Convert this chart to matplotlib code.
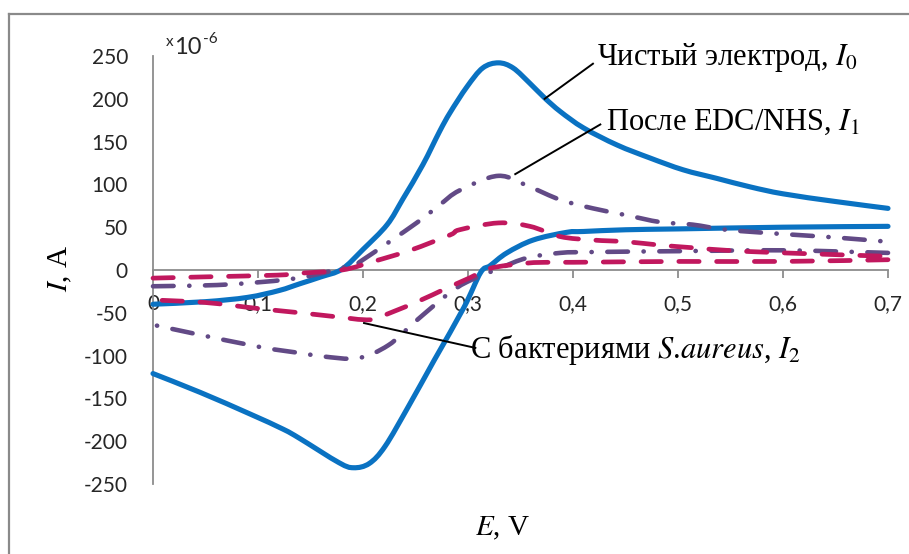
import matplotlib
matplotlib.use("Agg")
import matplotlib.pyplot as plt
from matplotlib.lines import Line2D
from matplotlib.path import Path
from matplotlib.patches import PathPatch

# ---------------- data (E in V, I in 1e-6 A) ----------------
e0_fwd = [0.0, 0.05, 0.09, 0.12, 0.14, 0.16, 0.18, 0.20, 0.223, 0.238, 0.257, 0.273, 0.283,
          0.299, 0.314, 0.329, 0.343, 0.359, 0.373, 0.388, 0.41, 0.442, 0.473, 0.505,
          0.537, 0.569, 0.60, 0.65, 0.70]
i0_fwd = [-40, -37, -32, -24, -16, -8, 1, 24, 53, 83, 123, 162, 184,
          214, 236, 242, 236, 218, 201, 185, 166, 146, 131, 117,
          107, 97, 89, 80, 72]
e0_rev = [0.70, 0.60, 0.50, 0.45, 0.41, 0.394, 0.362, 0.337, 0.321, 0.312, 0.296, 0.268,
          0.243, 0.221, 0.206, 0.191, 0.177, 0.14, 0.124, 0.092, 0.045, 0.0]
i0_rev = [51, 50, 48, 47, 45, 44, 35, 20, 5, -3, -44, -105,
          -160, -206, -226, -231, -225, -197, -186, -168, -143, -121]

e1_fwd = [0.0, 0.07, 0.14, 0.19, 0.20, 0.251, 0.273, 0.292, 0.329, 0.359, 0.388, 0.419,
          0.451, 0.483, 0.514, 0.546, 0.60, 0.65, 0.70]
i1_fwd = [-19, -17, -9, 6, 12, 55, 76, 93, 110, 97, 82, 72,
          64, 56, 53, 47, 42, 38, 33]
e1_rev = [0.70, 0.60, 0.50, 0.419, 0.388, 0.356, 0.33, 0.299, 0.28, 0.25, 0.224, 0.195,
          0.162, 0.14, 0.102, 0.038, 0.0]
i1_rev = [20, 23, 22, 21, 20, 14, 2, -14, -29, -60, -88, -103,
          -101, -97, -90, -74, -64]

e2_fwd = [0.0, 0.05, 0.118, 0.137, 0.18, 0.21, 0.245, 0.283, 0.292, 0.329, 0.359, 0.388,
          0.419, 0.451, 0.483, 0.514, 0.546, 0.60, 0.70]
i2_fwd = [-9.5, -8, -6, -4, 0, 10, 23, 41, 47, 55, 51, 39,
          35, 33, 29, 26, 23, 20, 16]
e2_rev = [0.70, 0.60, 0.50, 0.40, 0.378, 0.356, 0.321, 0.302, 0.28, 0.25, 0.213, 0.20,
          0.177, 0.14, 0.10, 0.05, 0.0]
i2_rev = [12, 10, 10, 9, 9, 8, 2, -9, -21, -38, -56, -58,
          -55, -50, -45, -38, -35]

x_ticks = [0.0, 0.1, 0.2, 0.3, 0.4, 0.5, 0.6, 0.7]
x_tick_labels = ["0", "0,1", "0,2", "0,3", "0,4", "0,5", "0,6", "0,7"]
y_ticks = [250, 200, 150, 100, 50, 0, -50, -100, -150, -200, -250]
y_tick_labels = ["250", "200", "150", "100", "50", "0", "-50", "-100", "-150", "-200", "-250"]

label_i0 = "Чистый электрод, $\\mathit{I_0}$"
label_i1 = "После EDC/NHS, $\\mathit{I_1}$"
label_i2 = "С бактериями $\\mathit{S}$.$\\mathit{aureus}$, $\\mathit{I_2}$"

# ---------------- style ----------------
plt.rcParams["mathtext.fontset"] = "stix"
W, H = 909, 554
fig = plt.figure(figsize=(W / 100, H / 100), dpi=100)
ax = fig.add_axes([153 / W, 1 - 484 / H, (888 - 153) / W, (484 - 56) / H])

blue = "#0A72C2"
purple = "#624A86"
magenta = "#C1185E"
axis_gray = "#8C8C8C"
text_dark = "#262626"


def smooth_branch(xs, ys, **kw):
    """Excel-like smoothed line: Catmull-Rom segments drawn as cubic Beziers."""
    n = len(xs)
    verts = [(xs[0], ys[0])]
    codes = [Path.MOVETO]
    for k in range(n - 1):
        x0, y0 = (xs[k - 1], ys[k - 1]) if k > 0 else (xs[k], ys[k])
        x1, y1 = xs[k], ys[k]
        x2, y2 = xs[k + 1], ys[k + 1]
        x3, y3 = (xs[k + 2], ys[k + 2]) if k + 2 < n else (x2, y2)
        c1 = (x1 + (x2 - x0) / 6, y1 + (y2 - y0) / 6)
        c2 = (x2 - (x3 - x1) / 6, y2 - (y3 - y1) / 6)
        verts += [c1, c2, (x2, y2)]
        codes += [Path.CURVE4] * 3
    patch = PathPatch(Path(verts, codes), fill=False, transform=ax.transData,
                      clip_on=False, joinstyle="round", capstyle="round", **kw)
    ax.add_patch(patch)


for xs, ys in [(e0_fwd, i0_fwd), (e0_rev, i0_rev)]:
    smooth_branch(xs, ys, edgecolor=blue, lw=3.7, zorder=3)
for xs, ys in [(e1_fwd, i1_fwd), (e1_rev, i1_rev)]:
    smooth_branch(xs, ys, edgecolor=purple, lw=3.3,
                  linestyle=(0, (4.5, 3.4, 0.05, 3.4)), zorder=4)
for xs, ys in [(e2_fwd, i2_fwd), (e2_rev, i2_rev)]:
    smooth_branch(xs, ys, edgecolor=magenta, lw=3.4,
                  linestyle=(0, (4.3, 3.7)), zorder=5)

ax.set_xlim(0, 0.7)
ax.set_ylim(-250, 250)
for s in ["top", "right"]:
    ax.spines[s].set_visible(False)
ax.spines["bottom"].set_position(("data", 0))
for s in ["left", "bottom"]:
    ax.spines[s].set_color(axis_gray)
    ax.spines[s].set_linewidth(1.3)

tick_font = dict(family="Lato", size=15, color=text_dark)
ax.set_xticks(x_ticks)
ax.set_xticklabels(x_tick_labels, fontdict=tick_font)
ax.set_yticks(y_ticks)
ax.set_yticklabels(y_tick_labels, fontdict=tick_font)
ax.tick_params(axis="x", direction="out", length=5.5, width=1.3, color=axis_gray, pad=12)
ax.tick_params(axis="y", length=0, pad=18)

# exponent marker  x10^-6
fig.text(166 / W, 1 - 42 / H, "x", family="Lato", size=11, color=text_dark,
         ha="left", va="center")
fig.text(174 / W, 1 - 47 / H, "10", family="Lato", size=17, color=text_dark,
         ha="left", va="center")
fig.text(203 / W, 1 - 39 / H, "-6", family="Lato", size=11, color=text_dark,
         ha="left", va="center")

# axis titles
serif = "Liberation Serif"
fig.text(60 / W, 1 - 268 / H, "$\\mathit{I}$, A", family=serif, size=21,
         rotation=90, ha="center", va="center", color="black")
fig.text(503 / W, 1 - 528 / H, "$\\mathit{E}$, V", family=serif, size=21,
         ha="center", va="center", color="black")

# annotations with pointer lines
ax.plot([0.373, 0.419], [200, 241], color="black", lw=1.4, clip_on=False, zorder=6)
ax.plot([0.345, 0.426], [112, 170], color="black", lw=1.4, clip_on=False, zorder=6)
ax.plot([0.201, 0.307], [-62, -91], color="black", lw=1.4, clip_on=False, zorder=6)
ax.text(0.423, 248, label_i0, family=serif, size=22, ha="left", va="center", clip_on=False)
ax.text(0.431, 173, label_i1, family=serif, size=22, ha="left", va="center", clip_on=False)
ax.text(0.302, -94, label_i2, family=serif, size=22, ha="left", va="center", clip_on=False)

# outer chart frame (left and top visible)
fy = 1 - 14 / H
fx = 9 / W
fig.add_artist(Line2D([fx, fx], [0, fy], transform=fig.transFigure, color="#8A8A8A", lw=1.6))
fig.add_artist(Line2D([fx, 1], [fy, fy], transform=fig.transFigure, color="#8A8A8A", lw=1.6))

fig.savefig("out.png", dpi=100)
